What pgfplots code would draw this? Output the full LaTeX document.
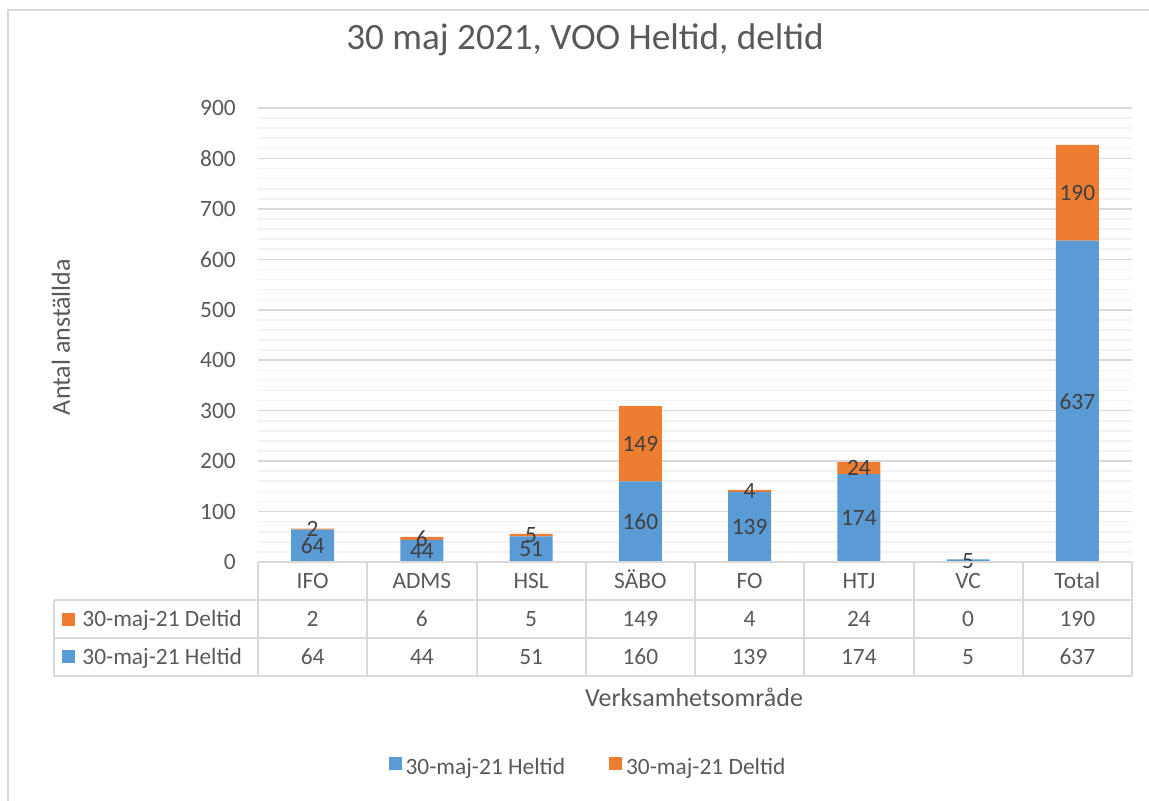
\documentclass[border=0pt]{standalone}
\usepackage{pgfplots}
\pgfplotsset{compat=1.18}
\usepackage{pgfplotstable}
\usepackage{fontspec}
\setmainfont{Carlito}
\definecolor{hel}{HTML}{5B9BD5}
\definecolor{del}{HTML}{ED7D31}
\definecolor{txt}{HTML}{595959}
\definecolor{lbl}{HTML}{404040}
\definecolor{gmaj}{HTML}{D9D9D9}
\definecolor{gmin}{HTML}{F2F2F2}

\pgfplotstableread{
x H D
0 64 2
1 44 6
2 51 5
3 160 149
4 139 4
5 174 24
6 5 0
7 637 190
}\datatable

\newcommand{\fs}{\fontsize{11.7}{14}\selectfont}

\begin{document}
\begin{tikzpicture}
\begin{scope}[x=0.5pt,y=-0.5pt]
\useasboundingbox (0,0) rectangle (1149,801);
\draw[gmaj, line width=1pt] (8,900) -- (8,10) -- (1200,10);
\end{scope}
\begin{axis}[
  at={(129pt,-281pt)}, anchor=south west,
  scale only axis, width=437pt, height=227pt,
  ybar stacked, bar width=21.5pt,
  xmin=-0.5, xmax=7.5, ymin=0, ymax=900,
  xtick={0,...,7},
  xticklabels={IFO,ADMS,HSL,SÄBO,FO,HTJ,VC,Total},
  ytick={0,100,...,900}, minor y tick num=4,
  ymajorgrids, yminorgrids,
  major grid style={gmaj, line width=0.8pt},
  minor grid style={gmin, line width=0.8pt},
  axis line style={draw=none},
  major tick length=0pt, minor tick length=0pt,
  tick label style={font=\fs, text=txt},
  /pgf/number format/assume math mode=true,
  yticklabel style={anchor=east, xshift=-7.6pt},
  xticklabel style={anchor=base, yshift=-13pt},
  title={30 maj 2021, VOO Heltid, deltid},
  title style={at={(axis description cs:0.3741,1.1035)}, anchor=base, font=\fontsize{18.6}{22}\selectfont, text=txt},
  xlabel={Verksamhetsområde},
  xlabel style={at={(axis description cs:0.4989,-0.3172)}, anchor=base, font=\fontsize{13}{15}\selectfont, text=txt},
  ylabel={Antal anställda},
  ylabel style={at={(axis description cs:-0.2254,0.4956)}, anchor=center, font=\fontsize{13}{15}\selectfont, text=txt},
  legend style={at={(axis description cs:0.3787,-0.4537)}, anchor=center, draw=none, fill=none,
    legend columns=2, font=\fs, text=txt,
    /tikz/every even column/.append style={column sep=20pt}},
  legend image code/.code={\fill[#1] (0pt,-1pt) rectangle (6.5pt,5.5pt);},
  nodes near coords,
  every node near coord/.append style={font=\fs, text=lbl, anchor=center},
]
\addplot[fill=hel, draw=none] table[x=x,y=H]{\datatable};
\addplot[fill=del, draw=none] table[x=x,y=D]{\datatable};
\legend{30-maj-21 Heltid, 30-maj-21 Deltid}
\end{axis}
\begin{scope}[x=0.5pt,y=-0.5pt]
\draw[gmaj, line width=1pt] (258,562) -- (1132,562);
\draw[gmaj, line width=1pt] (54,599.5) -- (1132,599.5);
\draw[gmaj, line width=1pt] (54,637.5) -- (1132,637.5);
\draw[gmaj, line width=1pt] (54,676) -- (1132,676);
\draw[gmaj, line width=1pt] (54,599.5) -- (54,676);
\foreach \k in {0,...,8} {\draw[gmaj, line width=1pt] ({258+\k*109.25},562) -- ({258+\k*109.25},676);}
\fill[del] (62,612.5) rectangle (75,625.5);
\fill[hel] (62,650) rectangle (75,663);
\node[anchor=base west, font=\fs, text=txt, inner sep=0] at (82,626) {30-maj-21 Deltid};
\node[anchor=base west, font=\fs, text=txt, inner sep=0] at (82,664) {30-maj-21 Heltid};
\foreach \v [count=\i from 0] in {2,6,5,149,4,24,0,190}
  \node[anchor=base, font=\fs, text=txt, inner sep=0] at ({258+(\i+0.5)*109.25},626) {\v};
\foreach \v [count=\i from 0] in {64,44,51,160,139,174,5,637}
  \node[anchor=base, font=\fs, text=txt, inner sep=0] at ({258+(\i+0.5)*109.25},664) {\v};
\end{scope}
\end{tikzpicture}
\end{document}
